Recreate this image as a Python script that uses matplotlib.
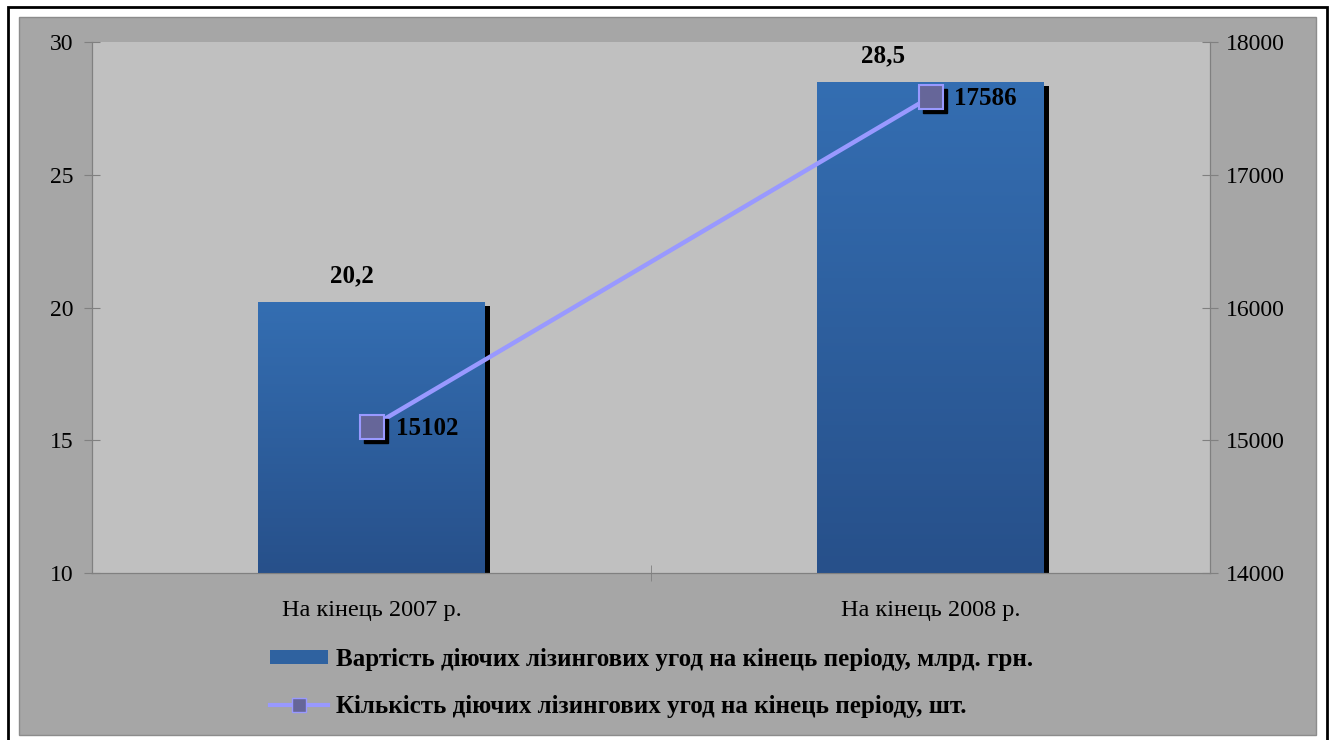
import numpy as np
import matplotlib
matplotlib.use('Agg')
import matplotlib.pyplot as plt
from matplotlib.patches import Rectangle, Patch
from matplotlib.lines import Line2D
from matplotlib.colors import LinearSegmentedColormap
from matplotlib.transforms import offset_copy

# дані
categories = ['На кінець 2007 р.', 'На кінець 2008 р.']
values_bn = [20.2, 28.5]            # млрд. грн.
values_cnt = [15102, 17586]         # шт.
bar_labels = ['20,2', '28,5']
left_ticks = [10, 15, 20, 25, 30]
right_ticks = [14000, 15000, 16000, 17000, 18000]
legend_labels = ['Вартість діючих лізингових угод на кінець періоду, млрд. грн.',
                 'Кількість діючих лізингових угод на кінець періоду, шт.']

# зсув підписів стовпців (пікселі), як в оригіналі
label_dx = [-20, -47]

plt.rcParams['font.family'] = ['Liberation Serif', 'DejaVu Serif']

W, H = 1332, 740
fig = plt.figure(figsize=(W / 100, H / 100), dpi=100, facecolor='white')

# сіра підкладка і чорна рамка
fig.patches.append(Rectangle((19 / W, 1 - 735 / H), (1316 - 19) / W, (735 - 17) / H,
                             transform=fig.transFigure, facecolor='#A6A6A6',
                             edgecolor='#8C8C8C', lw=1, zorder=-2))
fig.patches.append(Rectangle((8 / W, -0.02), (1327 - 8) / W, 1 - 7 / H + 0.02,
                             transform=fig.transFigure, fill=False,
                             edgecolor='black', lw=2, zorder=-1))

ax = fig.add_axes([92 / W, 1 - 573 / H, (1210 - 92) / W, (573 - 42) / H])
ax.set_facecolor('#C0C0C0')
ax2 = ax.twinx()

x = np.arange(len(categories))
bw = 0.406

# тінь стовпців
shadow_tr = offset_copy(ax.transData, fig=fig, x=5, y=-4, units='dots')
ax.bar(x, np.array(values_bn) - 10, bw, bottom=10, color='black',
       transform=shadow_tr, zorder=1)
bars = ax.bar(x, np.array(values_bn) - 10, bw, bottom=10, color='#2F62A0', zorder=2)

# градієнт у стовпцях
grad = LinearSegmentedColormap.from_list('g', ['#27508A', '#346EB2'])
for b in bars:
    x0, y0 = b.get_x(), b.get_y()
    im = ax.imshow(np.linspace(0, 1, 256).reshape(-1, 1), cmap=grad, origin='lower',
                   aspect='auto', extent=[x0, x0 + b.get_width(), y0, y0 + b.get_height()],
                   zorder=3)
    im.set_clip_path(b)

for i, v in enumerate(values_bn):
    ax.annotate(bar_labels[i], xy=(x[i], v), xytext=(label_dx[i], 26),
                textcoords='offset pixels', ha='center', va='center',
                fontsize=18, fontweight='bold')

ax.set_xlim(-0.5, 1.5)
ax.set_ylim(10, 30)
ax.set_yticks(left_ticks)
ax.set_xticks(x)
ax.set_xticklabels(categories, fontsize=17.5)
ax.set_xticks([0.5], minor=True)
ax.tick_params(axis='x', which='major', length=0, pad=19.5)
ax.tick_params(axis='x', which='minor', direction='inout', length=11, color='#808080')
ax.tick_params(axis='y', direction='inout', length=11, color='#808080',
               labelsize=17, pad=8)

# лінія кількості угод
mk_shadow = offset_copy(ax2.transData, fig=fig, x=4, y=-4, units='dots')
ax2.plot(x, values_cnt, 's', ms=17, color='black', transform=mk_shadow, zorder=2)
ax2.plot(x, values_cnt, '-', color='#9999FF', lw=3.2, zorder=1)
ax2.plot(x, values_cnt, 's', ms=17, markerfacecolor='#666699',
         markeredgecolor='#9999FF', markeredgewidth=1.5, zorder=3)
for i, v in enumerate(values_cnt):
    ax2.annotate(str(v), xy=(x[i], v), xytext=(24, -1.5),
                 textcoords='offset pixels', ha='left', va='center',
                 fontsize=18, fontweight='bold')

ax2.set_ylim(14000, 18000)
ax2.set_yticks(right_ticks)
ax2.tick_params(axis='y', direction='inout', length=11, color='#808080',
                labelsize=17, pad=6)

for a in (ax, ax2):
    a.spines['top'].set_visible(False)
    for s in ('left', 'right', 'bottom'):
        a.spines[s].set_color('#808080')

# легенда
handles = [Patch(facecolor='#2F62A0', edgecolor='none'),
           Line2D([], [], color='#9999FF', lw=3, marker='s', ms=10,
                  markerfacecolor='#666699', markeredgecolor='#9999FF')]
leg = ax2.legend(handles, legend_labels, loc='upper left',
                 bbox_to_anchor=(270 / W, 1 - 648 / H), bbox_transform=fig.transFigure,
                 frameon=False, borderpad=0, borderaxespad=0,
                 prop={'size': 18, 'weight': 'bold'},
                 handlelength=2.3, handleheight=0.52, handletextpad=0.36,
                 labelspacing=0.95)

fig.savefig('out.png', dpi=100, facecolor='white')
